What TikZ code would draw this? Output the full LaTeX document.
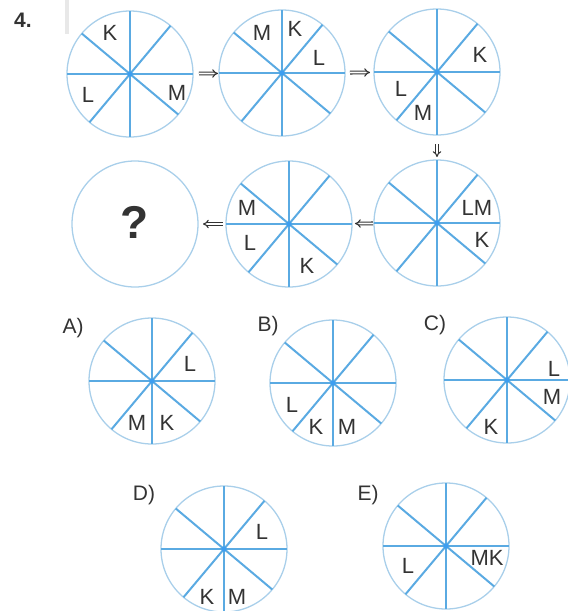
\documentclass[tikz,border=0pt]{standalone}
\usepackage{fontspec}
\setmainfont{Liberation Sans}
\usetikzlibrary{arrows.meta}
\definecolor{rim}{HTML}{A9CFEA}
\definecolor{spoke}{HTML}{5AAAE2}
\definecolor{hub}{HTML}{3D9EF0}
\definecolor{ink}{HTML}{333333}
\tikzset{
  wheel/.style={circle, draw=rim, line width=1.3pt, minimum size=126pt, inner sep=0pt, outer sep=0pt},
  spk/.style={draw=spoke, line width=2pt},
  lab/.style={text=ink, font=\fontsize{22}{22}\selectfont, inner sep=0pt},
  optlab/.style={text=ink, font=\fontsize{21}{21}\selectfont, inner sep=0pt},
  arr/.style={draw=ink, double=white, double distance=1.7pt, line width=1.1pt, -{Implies}},
}
\newcommand\spokes[1]{%
  \foreach \a in {0,50,90,140,180,230,270,320}{\draw[spk] (#1.center) -- (#1.\a);}%
  \fill[hub] (#1.center) circle (2.6pt);}
\begin{document}
\begin{tikzpicture}[x=1pt,y=-1pt]
\useasboundingbox (0,0) rectangle (568,611);
\fill[gray!18] (65,0) rectangle (69,34);
\node[text=ink, font=\fontsize{21}{21}\selectfont\bfseries, inner sep=0pt] (num) at (23,20) {4.};

% sequence
\node[wheel] (c1) at (130,74) {};
\node[wheel] (c2) at (282,73) {};
\node[wheel] (c3) at (437,72) {};
\node[wheel] (c4) at (437,223) {};
\node[wheel] (c5) at (289,224) {};
\node[wheel] (c6) at (135,224) {};
\spokes{c1}\spokes{c2}\spokes{c3}\spokes{c4}\spokes{c5}

\node[lab] (c1K) at (110,33) {K};
\node[lab] (c1L) at (88,95) {L};
\node[lab] (c1M) at (177,93) {M};

\node[lab] (c2M) at (262,33) {M};
\node[lab] (c2K) at (295,29) {K};
\node[lab] (c2L) at (319,58) {L};

\node[lab] (c3K) at (480,55) {K};
\node[lab] (c3L) at (401,89) {L};
\node[lab] (c3M) at (423,113) {M};

\node[lab] (c4LM) at (477,208) {LM};
\node[lab] (c4K) at (482,240) {K};

\node[lab] (c5M) at (247,208) {M};
\node[lab] (c5L) at (250,243) {L};
\node[lab] (c5K) at (307,266) {K};

\node[text=ink, font=\fontsize{46}{46}\selectfont\bfseries, inner sep=0pt] (q) at (135,222) {?};

\draw[arr, shorten <=6pt, shorten >=1pt] (c1) -- (c2);
\draw[arr, shorten <=5pt, shorten >=4pt] (c2) -- (c3);
\draw[arr, shorten <=9pt, shorten >=3pt] (c3) -- (c4);
\draw[arr, shorten <=1pt, shorten >=3pt] (c4) -- (c5);
\draw[arr, shorten <=3pt, shorten >=5pt] (c5) -- (c6);

% options
\node[optlab] (oA) at (73,328) {A)};
\node[optlab] (oB) at (268,326) {B)};
\node[optlab] (oC) at (435,325) {C)};
\node[optlab] (oD) at (144,495) {D)};
\node[optlab] (oE) at (368,495) {E)};

\node[wheel] (a) at (152,381) {};
\node[wheel] (b) at (333,383) {};
\node[wheel] (c) at (507,380) {};
\node[wheel] (d) at (224,549) {};
\node[wheel] (e) at (446,546) {};
\spokes{a}\spokes{b}\spokes{c}\spokes{d}\spokes{e}

\node[lab] (aL) at (190,364) {L};
\node[lab] (aM) at (137,423) {M};
\node[lab] (aK) at (167,423) {K};

\node[lab] (bL) at (292,405) {L};
\node[lab] (bK) at (316,427) {K};
\node[lab] (bM) at (347,427) {M};

\node[lab] (cL) at (554,369) {L};
\node[lab] (cM) at (552,397) {M};
\node[lab] (cK) at (491,427) {K};

\node[lab] (dL) at (262,532) {L};
\node[lab] (dK) at (207,597) {K};
\node[lab] (dM) at (237,597) {M};

\node[lab] (eL) at (408,566) {L};
\node[lab] (eMK) at (487,558) {MK};
\end{tikzpicture}
\end{document}
